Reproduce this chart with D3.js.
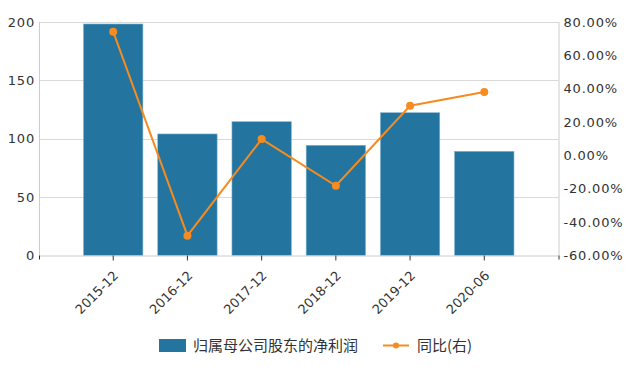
<!DOCTYPE html>
<html><head><meta charset="utf-8">
<script src="https://cdn.jsdelivr.net/npm/d3@7"></script>
<style>
html,body{margin:0;padding:0;background:#fff;}
svg text{font-family:"DejaVu Sans",Verdana,sans-serif;fill:#333;}
</style></head>
<body><svg id="c" width="640" height="367"></svg>
<script>
const categories = ["2015-12","2016-12","2017-12","2018-12","2019-12","2020-06"];
const profit = [198.3, 104.1, 114.6, 94.4, 122.3, 89.2];
const yoy = [74.2, -48.1, 9.8, -18.2, 29.8, 38.0];
const leftTicks = [0, 50, 100, 150, 200];
const rightTicks = [-60, -40, -20, 0, 20, 40, 60, 80];
const seriesNames = ["归属母公司股东的净利润", "同比(右)"];

const svg = d3.select("#c");
const L = 39, R = 558.5, T = 22, B = 255.5;
const step = (R - L) / 7;
const x = d3.scaleBand().domain(categories).range([L + step/2, R - step/2]).paddingInner(0.2).paddingOuter(0.1);
const y = d3.scaleLinear().domain([0, 200]).range([B, T]);
const y2 = d3.scaleLinear().domain([-60, 80]).range([B, T]);
const blue = "#23759f", orange = "#f68b1f";

// gridlines
svg.append("g").selectAll("line").data(leftTicks.filter(d => d > 0)).join("line")
  .attr("x1", L).attr("x2", R).attr("y1", d => Math.round(y(d)) + 0.5).attr("y2", d => Math.round(y(d)) + 0.5)
  .attr("stroke", "#d9d9d9").attr("stroke-width", 1);

// bars
svg.append("g").selectAll("rect").data(categories).join("rect")
  .attr("x", d => x(d)).attr("width", x.bandwidth())
  .attr("y", (d, i) => y(profit[i])).attr("height", (d, i) => B - y(profit[i]))
  .attr("fill", blue).attr("stroke", "#7fb3cf").attr("stroke-width", 0.6);

// axes lines
const ax = svg.append("g");
ax.append("line").attr("x1", L + 0.5).attr("x2", L + 0.5).attr("y1", T).attr("y2", B).attr("stroke", "#ccc");
ax.append("line").attr("x1", R + 0.5).attr("x2", R + 0.5).attr("y1", T).attr("y2", B).attr("stroke", "#ccc");
ax.append("line").attr("x1", L).attr("x2", R).attr("y1", B + 0.5).attr("y2", B + 0.5).attr("stroke", "#ccc");

// left axis labels
const lAxis = svg.append("g").attr("transform", `translate(${L},0)`)
  .call(d3.axisLeft(y).tickValues(leftTicks).tickSize(0).tickPadding(4));
lAxis.select(".domain").remove();
lAxis.selectAll("text").attr("font-size", 13).style("letter-spacing", "0.8px").attr("fill", "#333");
// right axis labels
const rAxis = svg.append("g").attr("transform", `translate(${R},0)`)
  .call(d3.axisRight(y2).tickValues(rightTicks).tickSize(0).tickPadding(5).tickFormat(d => d.toFixed(2) + "%"));
rAxis.select(".domain").remove();
rAxis.selectAll("text").attr("font-size", 13).style("letter-spacing", "0.8px").attr("fill", "#333");

// small ticks at bottom corners
[L, R].forEach(px => ax.append("line").attr("x1", px + 0.5).attr("x2", px + 0.5).attr("y1", B).attr("y2", B + 4).attr("stroke", "#333"));

// x axis
const xAxis = svg.append("g").attr("transform", `translate(0,${B})`)
  .call(d3.axisBottom(x).tickSize(5).tickSizeOuter(0));
xAxis.select(".domain").remove();
xAxis.selectAll(".tick line").attr("stroke", "#333");
xAxis.selectAll("text").attr("font-size", 13).attr("text-anchor", "end")
  .attr("transform", "translate(6,21) rotate(-45)").attr("dy", 0).attr("y", 0).attr("x", 0);

// line
const cx = d => x(d) + x.bandwidth() / 2;
svg.append("path").datum(categories)
  .attr("d", d3.line().x(d => cx(d)).y((d, i) => y2(yoy[i])))
  .attr("fill", "none").attr("stroke", orange).attr("stroke-width", 2);
svg.append("g").selectAll("circle").data(categories).join("circle")
  .attr("cx", cx).attr("cy", (d, i) => y2(yoy[i])).attr("r", 4).attr("fill", orange);

// legend
const lg = svg.append("g");
lg.append("rect").attr("x", 159).attr("y", 339).attr("width", 27).attr("height", 13).attr("fill", blue);
lg.append("text").attr("x", 193).attr("y", 345.5).attr("dy", "0.35em").attr("font-size", 15)
  .style("font-family", "'Noto Sans CJK SC',sans-serif").text(seriesNames[0]);
lg.append("line").attr("x1", 383).attr("x2", 409).attr("y1", 345.5).attr("y2", 345.5).attr("stroke", orange).attr("stroke-width", 2);
lg.append("circle").attr("cx", 396).attr("cy", 345.5).attr("r", 3).attr("fill", orange);
lg.append("text").attr("x", 417).attr("y", 345.5).attr("dy", "0.35em").attr("font-size", 15)
  .style("font-family", "'Noto Sans CJK SC',sans-serif").text(seriesNames[1]);
</script></body></html>
